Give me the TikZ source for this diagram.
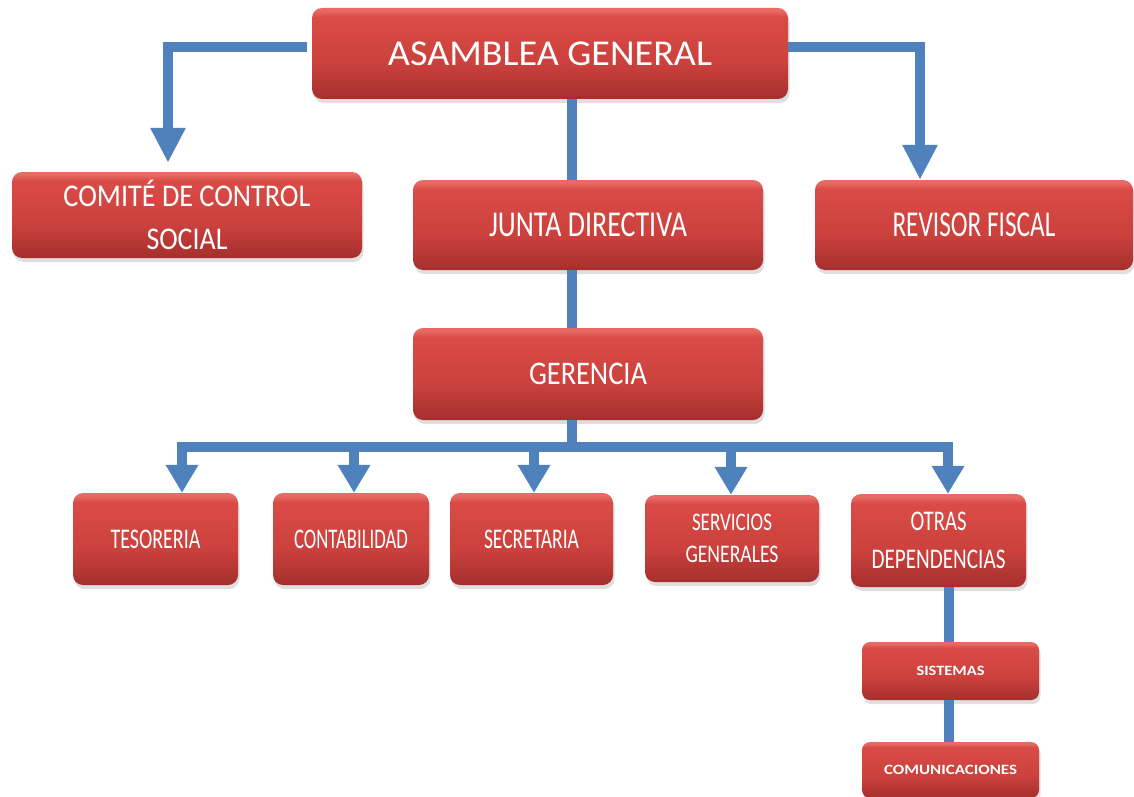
\documentclass[tikz,border=0pt]{standalone}
\usepackage{fontspec}
\setmainfont{Carlito}
\usepackage{graphicx}
\usetikzlibrary{arrows.meta,shadows}
\definecolor{rhi}{HTML}{E86A64}
\definecolor{rtop}{HTML}{D94B46}
\definecolor{rmid}{HTML}{CC413D}
\definecolor{rbot}{HTML}{A52F2D}
\definecolor{lnblue}{HTML}{4F81BD}
\pgfdeclareverticalshading{redbev}{100bp}{color(0bp)=(rbot); color(25bp)=(rbot); color(45bp)=(rmid); color(70bp)=(rtop); color(73.5bp)=(rhi); color(75bp)=(rhi); color(100bp)=(rhi)}
\newcommand\fw[2]{\resizebox{#1pt}{\height}{#2}}
\begin{document}
\begin{tikzpicture}[x=1pt,y=-1pt,
 box/.style={draw=none, rounded corners=10pt, shading=redbev, text=white, inner sep=0pt, align=center,
   drop shadow={shadow xshift=1.5pt, shadow yshift=-4pt, opacity=0.25}},
 conn/.style={draw=lnblue, line width=10pt},
 arrbig/.style={conn, -{Triangle[width=33pt,length=35pt]}},
 arrsm/.style={conn, -{Triangle[width=31pt,length=28pt]}},
 fbig/.style={font=\fontsize{36.4}{40}\selectfont},
]
\useasboundingbox (0,0) rectangle (1134,797);

\node[box, fbig, minimum width=476pt, minimum height=91pt] (asam) at (550,53.5) {\fw{324}{ASAMBLEA GENERAL}};
\node[box, font=\fontsize{31.6}{43}\selectfont, minimum width=350pt, minimum height=86pt] (comite) at (187,215) {\fw{247}{COMITÉ DE CONTROL}\\\fw{81}{SOCIAL}};
\node[box, fbig, minimum width=350pt, minimum height=90pt] (junta) at (588,225) {\fw{198}{JUNTA DIRECTIVA}};
\node[box, fbig, minimum width=318pt, minimum height=90pt] (rev) at (974,225) {\fw{163}{REVISOR FISCAL}};
\node[box, font=\fontsize{33}{36}\selectfont, minimum width=350pt, minimum height=92pt] (ger) at (588,374) {\fw{118}{GERENCIA}};

\tikzset{fmid/.style={font=\fontsize{28.5}{38}\selectfont}}
\node[box, fmid, minimum width=165pt, minimum height=92pt] (tes) at (155.5,539) {\fw{90}{TESORERIA}};
\node[box, fmid, minimum width=156pt, minimum height=92pt] (cont) at (351,539) {\fw{114}{CONTABILIDAD}};
\node[box, fmid, minimum width=163pt, minimum height=92pt] (secr) at (531.5,539) {\fw{95}{SECRETARIA}};
\node[box, font=\fontsize{25.3}{32}\selectfont, minimum width=174pt, minimum height=87pt] (serv) at (732,538.5) {\fw{80}{SERVICIOS}\\\fw{93}{GENERALES}};
\node[box, fmid, minimum width=175pt, minimum height=93pt] (otras) at (938.5,540.5) {\fw{56}{OTRAS}\\\fw{134}{DEPENDENCIAS}};

\tikzset{fsm/.style={font=\bfseries\fontsize{14.2}{16}\selectfont}}
\node[box, fsm, rounded corners=8pt, minimum width=177pt, minimum height=58pt] (sis) at (950.5,671) {\fw{68}{SISTEMAS}};
\node[box, fsm, rounded corners=8pt, minimum width=177pt, minimum height=56pt] (com) at (950.5,770) {\fw{133}{COMUNICACIONES}};

% connectors
\coordinate (spine) at (572,0);
\coordinate (sx) at (949,0);
\coordinate (bA) at (182,447);
\coordinate (bB) at (354,447);
\coordinate (bC) at (534,447);
\coordinate (bD) at (731,447);
\coordinate (bE) at (948,447);

\draw[arrbig, shorten <=5pt, shorten >=9pt] ([yshift=6.5pt]asam.west) -| ([xshift=-19pt]comite.north);
\draw[arrbig] ([yshift=6.5pt]asam.east) -| ([xshift=-54pt]rev.north);
\draw[conn] (asam.south -| spine) -- (junta.north -| spine);
\draw[conn] (junta.south -| spine) -- (ger.north -| spine);
\draw[conn] (ger.south -| spine) -- (spine |- bA);
\draw[conn, line cap=rect] (bA) -- (bE);
\draw[arrsm] (bA) -- (tes.north -| bA);
\draw[arrsm] (bB) -- (cont.north -| bB);
\draw[arrsm] (bC) -- (secr.north -| bC);
\draw[arrsm] (bD) -- (serv.north -| bD);
\draw[arrsm] (bE) -- (otras.north -| bE);
\draw[conn] (otras.south -| sx) -- (sis.north -| sx);
\draw[conn] (sis.south -| sx) -- (com.north -| sx);
\end{tikzpicture}
\end{document}
